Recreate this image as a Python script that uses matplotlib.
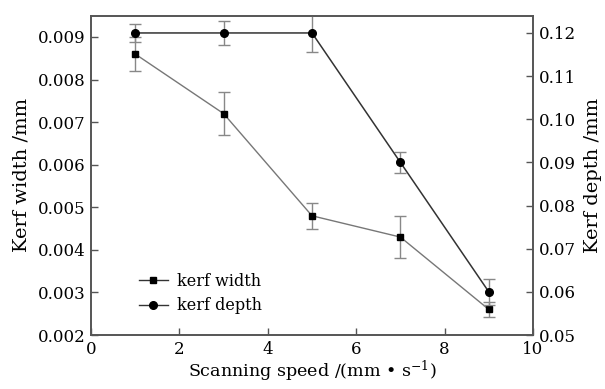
import matplotlib
matplotlib.use("Agg")
import matplotlib.pyplot as plt
from matplotlib.lines import Line2D

plt.rcParams['font.family'] = ['DejaVu Serif']
plt.rcParams['mathtext.fontset'] = 'dejavuserif'

speed = [1, 3, 5, 7, 9]
kerf_width = [0.0086, 0.0072, 0.0048, 0.0043, 0.0026]
kerf_width_err = [0.0004, 0.0005, 0.0003, 0.0005, 0.00017]
kerf_depth = [0.12, 0.12, 0.12, 0.09, 0.06]
kerf_depth_err = [0.002, 0.0028, 0.0043, 0.0025, 0.003]

fig = plt.figure(figsize=(6.05, 3.89), dpi=100)
ax = fig.add_axes([91/605, 1-335/389, (533-91)/605, (335-15.7)/389])
ax2 = ax.twinx()

fs_tick = 12
ax.errorbar(speed, kerf_width, yerr=kerf_width_err, color='#777777', lw=1.0,
            marker='s', ms=5, mfc='black', mec='black', ecolor='#888888',
            elinewidth=1.0, capsize=4, capthick=1.0)
ax2.errorbar(speed, kerf_depth, yerr=kerf_depth_err, color='#333333', lw=1.1,
             marker='o', ms=5.5, mfc='black', mec='black', ecolor='#888888',
             elinewidth=1.0, capsize=4, capthick=1.0)

ax.set_xlim(0, 10)
ax.set_ylim(0.002, 0.0095)
ax2.set_ylim(0.05, 0.124)
ax.set_xticks([0, 2, 4, 6, 8, 10])
ax.set_yticks([0.002, 0.003, 0.004, 0.005, 0.006, 0.007, 0.008, 0.009])
ax.set_yticklabels(['0.002', '0.003', '0.004', '0.005', '0.006', '0.007', '0.008', '0.009'])
ax2.set_yticks([0.05, 0.06, 0.07, 0.08, 0.09, 0.10, 0.11, 0.12])
ax2.set_yticklabels(['0.05', '0.06', '0.07', '0.08', '0.09', '0.10', '0.11', '0.12'])

for a in (ax, ax2):
    for s in a.spines.values():
        s.set_color('#555555')
        s.set_linewidth(1.2)
ax.tick_params(axis='both', direction='in', length=5, width=1.0, color='#555555',
               labelsize=fs_tick, pad=4)
ax2.tick_params(axis='y', direction='in', length=5, width=1.0, color='#555555',
                labelsize=fs_tick, pad=4)

ax.set_xlabel('Scanning speed /(mm • s$^{-1}$)', fontsize=12.6, labelpad=1)
ax.set_ylabel('Kerf width /mm', fontsize=14, labelpad=5)
ax2.set_ylabel('Kerf depth /mm', fontsize=14, labelpad=6)

handles = [Line2D([], [], color='#333333', lw=1.0, marker='s', ms=5, mfc='black', mec='black'),
           Line2D([], [], color='#333333', lw=1.0, marker='o', ms=5.5, mfc='black', mec='black')]
ax.legend(handles, ['kerf width', 'kerf depth'], loc='lower left', bbox_to_anchor=(0.09, 0.04),
          frameon=False, fontsize=11.5, handlelength=1.8, handletextpad=0.6,
          labelspacing=0.45, borderpad=0)

fig.savefig('out.png', dpi=100)
